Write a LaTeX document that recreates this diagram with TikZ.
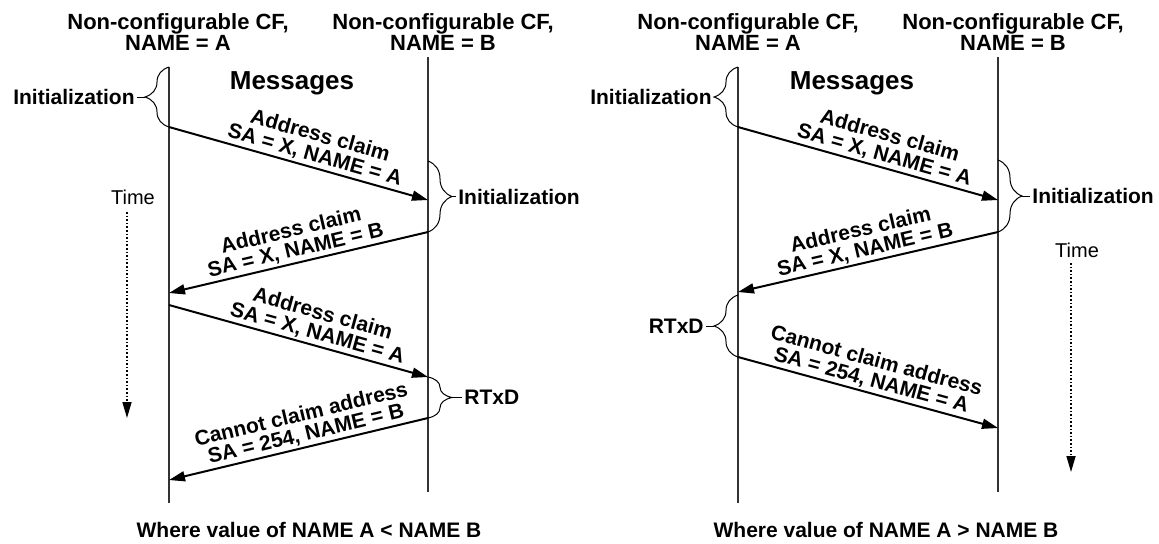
\documentclass[tikz,border=0pt]{standalone}
\usepackage{fontspec}
\setmainfont{Liberation Sans}
\usetikzlibrary{arrows.meta,positioning,decorations.pathreplacing}

\begin{document}
\begin{tikzpicture}[x=0.5pt, y=-0.5pt, >={Triangle[length=8pt,width=5pt]},
  every node/.style={font=\fontsize{10.5}{10}\selectfont\bfseries, inner sep=1pt},
  title/.style={align=center, font=\fontsize{11}{10.5}\selectfont\bfseries},
  lifeline/.style={draw=black!80, line width=0.6pt},
  msg/.style={->, line width=1pt},
  msglabel/.style={sloped, above, align=center, font=\fontsize{10.5}{10}\selectfont\bfseries},
  bracer/.style={decorate, decoration={brace, amplitude=12pt}, line width=0.5pt},
  bracel/.style={decorate, decoration={brace, mirror, amplitude=12pt}, line width=0.5pt},
  timeline/.style={->, densely dotted, line width=0.8pt, >={Triangle[length=8pt,width=4.5pt]}},
  timetext/.style={font=\fontsize{10}{10}\selectfont},
  heading/.style={font=\fontsize{13}{12}\selectfont\bfseries}
]
  \useasboundingbox (0,0) rectangle (1159,543);

  % -- Left panel: NAME A < NAME B --
  \node[title] (LtitleA) at (178,32) {Non-configurable CF,\\NAME = A};
  \node[title] (LtitleB) at (443,32) {Non-configurable CF,\\NAME = B};
  \node[heading] (Lmsgs) at (292,83) {Messages};

  \coordinate (LAtop) at (169,67);  \coordinate (LAbot) at (169,503);
  \coordinate (LBtop) at (428,57);  \coordinate (LBbot) at (428,492);
  \draw[lifeline] (LAtop) -- (LAbot);
  \draw[lifeline] (LBtop) -- (LBbot);

  \coordinate (La1) at (169,127);  \coordinate (Lb1) at (428,200);
  \coordinate (Lb2) at (428,232);  \coordinate (La2) at (169,293);
  \coordinate (La3) at (169,305);  \coordinate (Lb3) at (428,377);
  \coordinate (Lb4) at (428,418);  \coordinate (La4) at (169,480);
  \coordinate (LbInit) at (428,161);

  \draw[msg] (La1) -- (Lb1) node[msglabel, pos=0.55] {Address claim\\SA = X, NAME = A};
  \draw[msg] (Lb2) -- (La2) node[msglabel, pos=0.5] {Address claim\\SA = X, NAME = B};
  \draw[msg] (La3) -- (Lb3) node[msglabel, pos=0.56] {Address claim\\SA = X, NAME = A};
  \draw[msg] (Lb4) -- (La4) node[msglabel, pos=0.46] {Cannot claim address\\SA = 254, NAME = B};

  \draw[bracel] (LAtop) -- (La1) coordinate[midway, xshift=-12pt] (LinitAtip);
  \node[left=4pt of LinitAtip] (LinitA) {Initialization};
  \draw (LinitAtip) -- (LinitA);

  \draw[bracer] (LbInit) -- (Lb2) coordinate[midway, xshift=12pt] (LinitBtip);
  \node[right=2pt of LinitBtip] (LinitB) {Initialization};
  \draw (LinitBtip) -- (LinitB);

  \draw[bracer] (Lb3) -- (Lb4) coordinate[midway, xshift=12pt] (LrtxdTip);
  \node[right=5pt of LrtxdTip] (Lrtxd) {RTxD};
  \draw (LrtxdTip) -- (Lrtxd);

  \node[timetext] (Ltime) at (133,197) {Time};
  \coordinate (LtimeTop) at (127,212);  \coordinate (LtimeBot) at (127,418);
  \draw[timeline] (LtimeTop) -- (LtimeBot);

  \node (Lcaption) at (309,530) {Where value of NAME A < NAME B};

  % -- Right panel: NAME A > NAME B --
  \node[title] (RtitleA) at (748,32) {Non-configurable CF,\\NAME = A};
  \node[title] (RtitleB) at (1013,32) {Non-configurable CF,\\NAME = B};
  \node[heading] (Rmsgs) at (852,83) {Messages};

  \coordinate (RAtop) at (738,67);  \coordinate (RAbot) at (738,503);
  \coordinate (RBtop) at (998,57);  \coordinate (RBbot) at (998,492);
  \draw[lifeline] (RAtop) -- (RAbot);
  \draw[lifeline] (RBtop) -- (RBbot);

  \coordinate (Ra1) at (738,127);  \coordinate (Rb1) at (998,200);
  \coordinate (Rb2) at (998,232);  \coordinate (Ra2) at (738,292);
  \coordinate (Ra3) at (738,357);  \coordinate (Rb3) at (998,428);
  \coordinate (RbInit) at (998,160);  \coordinate (RaRtxd) at (738,295);

  \draw[msg] (Ra1) -- (Rb1) node[msglabel, pos=0.55] {Address claim\\SA = X, NAME = A};
  \draw[msg] (Rb2) -- (Ra2) node[msglabel, pos=0.5] {Address claim\\SA = X, NAME = B};
  \draw[msg] (Ra3) -- (Rb3) node[msglabel, pos=0.5] {Cannot claim address\\SA = 254, NAME = A};

  \draw[bracel] (RAtop) -- (Ra1) coordinate[midway, xshift=-12pt] (RinitAtip);
  \node[left=0pt of RinitAtip] (RinitA) {Initialization};
  \draw (RinitAtip) -- (RinitA);

  \draw[bracer] (RbInit) -- (Rb2) coordinate[midway, xshift=12pt] (RinitBtip);
  \node[right=4pt of RinitBtip] (RinitB) {Initialization};
  \draw (RinitBtip) -- (RinitB);

  \draw[bracel] (RaRtxd) -- (Ra3) coordinate[midway, xshift=-12pt] (RrtxdTip);
  \node[left=4pt of RrtxdTip] (Rrtxd) {RTxD};
  \draw (RrtxdTip) -- (Rrtxd);

  \node[timetext] (Rtime) at (1077,250) {Time};
  \coordinate (RtimeTop) at (1071,263);  \coordinate (RtimeBot) at (1071,472);
  \draw[timeline] (RtimeTop) -- (RtimeBot);

  \node (Rcaption) at (886,530) {Where value of NAME A > NAME B};

\end{tikzpicture}
\end{document}
